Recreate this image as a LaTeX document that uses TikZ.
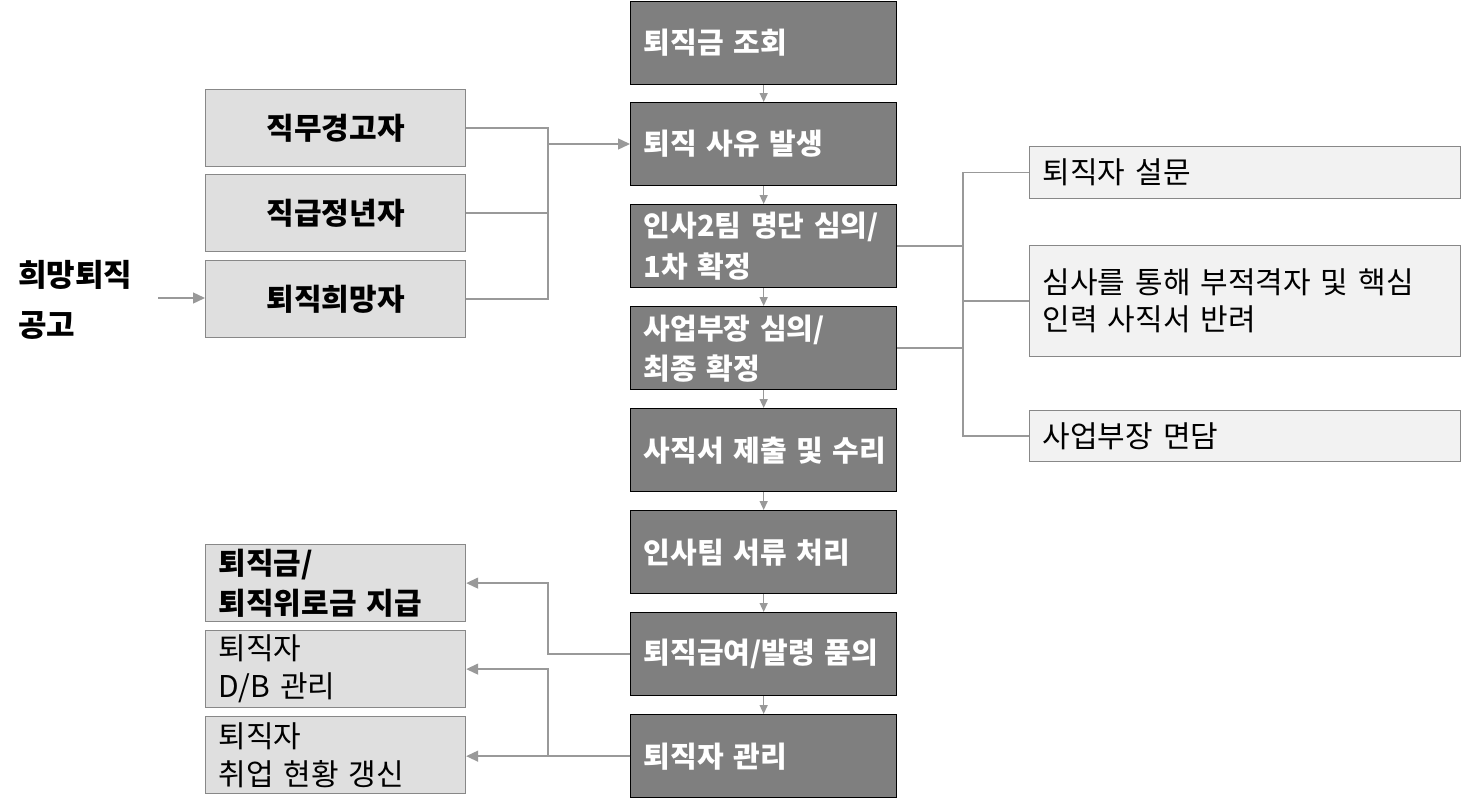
\documentclass[tikz,border=0pt]{standalone}
\usepackage{fontspec}
\setmainfont[WordSpace=2.2]{Noto Sans CJK KR}
\usetikzlibrary{arrows.meta}
\definecolor{darkbox}{HTML}{7F7F7F}
\definecolor{lightbox}{HTML}{DFDFDF}
\definecolor{palebox}{HTML}{F2F2F2}
\definecolor{edgegray}{HTML}{888888}
\definecolor{linegray}{HTML}{999999}
\begin{document}
\begin{tikzpicture}[x=1pt,y=-1pt,
  cbox/.style={draw=black, line width=1.3pt, fill=darkbox, text=white, font=\fontsize{29}{40}\selectfont\bfseries,
    anchor=north west, minimum width=266pt, minimum height=83pt, inner xsep=13pt, inner ysep=0pt,
    text width=240pt, align=left},
  lbox/.style={draw=edgegray, line width=1.2pt, fill=lightbox, font=\fontsize{30}{40}\selectfont\bfseries,
    anchor=north west, minimum width=260pt, minimum height=77pt, inner sep=0pt, align=center},
  bbox/.style={draw=edgegray, line width=1.2pt, fill=lightbox, font=\fontsize{30}{38}\selectfont,
    anchor=north west, minimum width=260pt, minimum height=77pt, inner xsep=13pt, inner ysep=0pt,
    text width=234pt, align=left},
  rbox/.style={draw=edgegray, line width=1.2pt, fill=palebox, font=\fontsize{30}{37}\selectfont,
    anchor=north west, minimum width=431pt, inner xsep=13pt, inner ysep=0pt,
    text width=405pt, align=left},
  conn/.style={draw=linegray, line width=1.4pt},
  harrow/.style={conn, -{Triangle[length=12pt,width=11pt]}},
  varrow/.style={conn, -{Triangle[length=9pt,width=8pt]}}
]
\useasboundingbox (0,0) rectangle (1461,811);

% central column
\node[cbox] (c1) at (630,1) {퇴직금 조회};
\node[cbox] (c2) at (630,102) {퇴직 사유 발생};
\node[cbox] (c3) at (630,204) {\mbox{인사2팀 명단 심의/}\\1차 확정};
\node[cbox] (c4) at (630,306) {사업부장 심의/\\최종 확정};
\node[cbox] (c5) at (630,408) {\mbox{사직서 제출 및 수리}};
\node[cbox] (c6) at (630,510) {인사팀 서류 처리};
\node[cbox] (c7) at (630,612) {\mbox{퇴직급여/발령 품의}};
\node[cbox] (c8) at (630,714) {퇴직자 관리};

% left column
\node[lbox] (l1) at (205,89) {직무경고자};
\node[lbox] (l2) at (205,174) {직급정년자};
\node[lbox] (l3) at (205,260) {퇴직희망자};

\node[anchor=west, inner sep=0pt, align=left, font=\fontsize{31}{50}\selectfont\bfseries] (ad) at (18,300) {희망퇴직\\공고};
\coordinate (adend) at (158,298);

% right column
\node[rbox, minimum height=52pt] (r1) at (1029,146) {퇴직자 설문};
\node[rbox, minimum height=111pt] (r2) at (1029,245) {심사를 통해 부적격자 및 핵심\\인력 사직서 반려};
\node[rbox, minimum height=51pt] (r3) at (1029,410) {사업부장 면담};

% bottom-left column
\node[bbox, font=\fontsize{30}{40}\selectfont\bfseries] (b1) at (205,544) {퇴직금/\\퇴직위로금 지급};
\node[bbox] (b2) at (205,630) {퇴직자\\D/B 관리};
\node[bbox] (b3) at (205,716) {퇴직자\\취업 현황 갱신};

% junction coordinates
\coordinate (jL) at (548,144);
\coordinate (jR) at (963,300);
\coordinate (jB) at (548,700);

% vertical flow arrows
\foreach \a/\b in {c1/c2,c2/c3,c3/c4,c4/c5,c5/c6,c6/c7,c7/c8}
  \draw[varrow] (\a.south) -- (\b.north);

% left tree
\draw[conn] (l1.east) -| (jL);
\draw[conn] (l3.east) -| (jL);
\draw[conn] (l2.east) -- (l2.east -| jL);
\draw[harrow] (jL) -- (jL -| c2.west);
\draw[harrow] (adend) -- (adend -| l3.west);

% right tree
\draw[conn] (c3.east) -- (c3.east -| jR);
\draw[conn] (c4.east) -- (c4.east -| jR);
\draw[conn] (r1.west) -| (r3.west -| jR) -- (r3.west);
\draw[conn] (r2.west) -- (r2.west -| jR);

% bottom tree
\draw[harrow] (c7.west) -- (c7.west -| jB) |- (b1.east);
\draw[harrow] (c8.west) -- (c8.west -| jB) |- (b2.east);
\draw[harrow] (c8.west) -- (c8.west -| b3.east);
\end{tikzpicture}
\end{document}
